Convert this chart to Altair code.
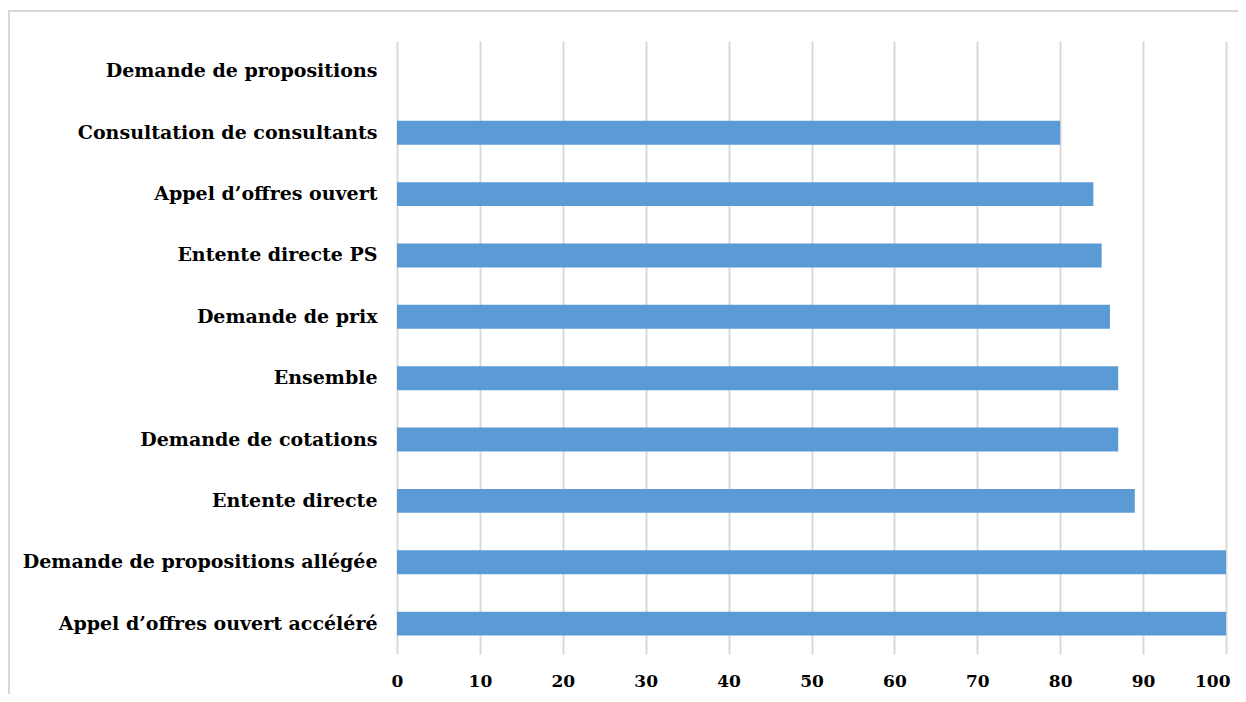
import altair as alt
import pandas as pd

categories = [
    "Demande de propositions",
    "Consultation de consultants",
    "Appel d’offres ouvert",
    "Entente directe PS",
    "Demande de prix",
    "Ensemble",
    "Demande de cotations",
    "Entente directe",
    "Demande de propositions allégée",
    "Appel d’offres ouvert accéléré",
]
values = [None, 80, 84, 85, 86, 87, 87, 89, 100, 100]
x_ticks = [0, 10, 20, 30, 40, 50, 60, 70, 80, 90, 100]

df = pd.DataFrame({"cat": categories, "val": values})

FONT = "DejaVu Serif"

bars = alt.Chart(df).mark_bar(color="#5B9BD5").encode(
    y=alt.Y(
        "cat:N",
        sort=categories,
        scale=alt.Scale(paddingInner=0.61, paddingOuter=0.3),
        axis=alt.Axis(
            title=None,
            labelFont=FONT,
            labelFontWeight="bold",
            labelFontSize=19,
            labelColor="#000000",
            labelPadding=20,
            ticks=False,
            domain=False,
            labelLimit=420,
        ),
    ),
    x=alt.X(
        "val:Q",
        scale=alt.Scale(domain=[0, 100], nice=False),
        axis=alt.Axis(
            title=None,
            values=x_ticks,
            labelFont=FONT,
            labelFontWeight="bold",
            labelFontSize=17,
            labelColor="#000000",
            labelPadding=19,
            labelFlush=False,
            labelOverlap=False,
            labelAlign=alt.ExprRef(expr="datum.value == 100 ? 'right' : 'center'"),
            labelOffset=alt.ExprRef(expr="datum.value == 100 ? 4 : 0"),
            ticks=False,
            domain=False,
            grid=True,
            gridColor="#d9d9d9",
            gridWidth=2,
        ),
    ),
)

frame = alt.Chart(pd.DataFrame({"a": [0]})).mark_rect(
    fill=None, stroke="#d9d9d9", strokeWidth=2
).encode(
    x=alt.value(-388), x2=alt.value(860),
    y=alt.value(-30), y2=alt.value(700),
)

chart = alt.layer(frame, bars).properties(
    width=829,
    height=613,
    padding={"left": 389, "top": 33, "right": 12, "bottom": 40},
    autosize=alt.AutoSizeParams(type="none"),
).configure_view(stroke=None)

chart.save("out.html", embed_options={"renderer": "svg", "actions": False})
